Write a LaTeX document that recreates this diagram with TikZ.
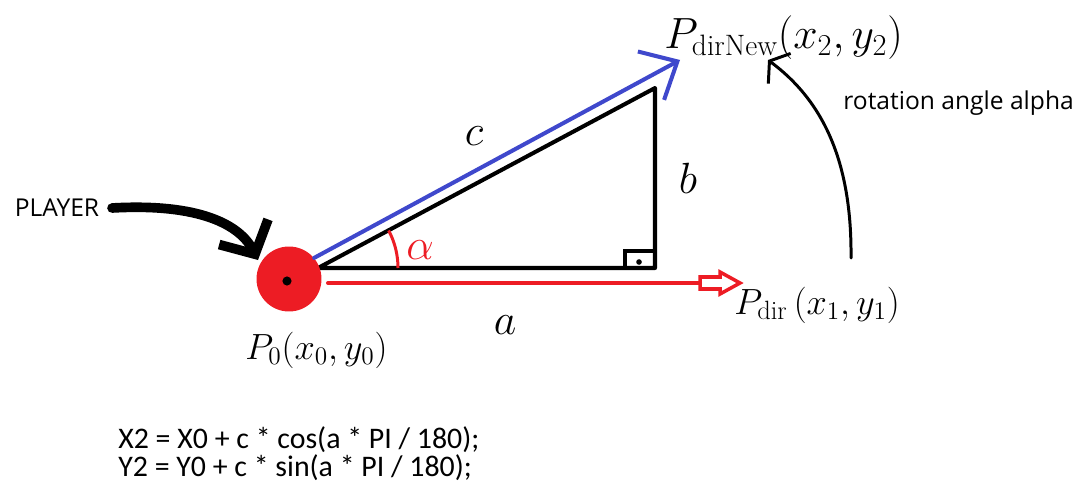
\documentclass[tikz,border=0pt]{standalone}
\usepackage{fontspec}
\newfontfamily\uifont{Open Sans}
\newfontfamily\calfont{Carlito}
\usetikzlibrary{arrows.meta, positioning}
\definecolor{paintred}{RGB}{237,28,36}
\definecolor{paintblue}{RGB}{63,72,204}

\begin{document}
\begin{tikzpicture}[x=0.02cm, y=-0.02cm,
every node/.style = {inner sep=0pt},
stroke/.style  = {line width=2.3pt, line cap=round, line join=round},
hand/.style    = {font=\fontsize{24}{24}\selectfont},
letter/.style  = {font=\fontsize{34}{34}\selectfont},
ui/.style      = {font=\uifont\fontsize{14}{16}\selectfont},
                    ]
\useasboundingbox (0,0) rectangle (1087,500);
%--- triangle
\coordinate (vA) at (318,268);
\coordinate (vC) at (655,268);
\coordinate (vB) at (655,88);
\draw[stroke] (vA) -- (vC) -- (vB) -- cycle;
\draw[line width=2pt] (625,268) |- (655,251);
\fill (639,262) circle (1.6pt);
%--- player
\node (player) [circle, fill=paintred, minimum size=1.3cm] at (289,279) {};
\fill (287,281) circle (2.6pt);
\node (playerlbl) [ui] at (57,208) {PLAYER};
\draw[line width=5.5pt, line cap=round,
      -{Straight Barb[length=5mm, width=11mm]}]
        ([xshift=2.5mm] playerlbl.east) .. controls (200,203) and (240,225) .. (258,260);
%--- vectors
\coordinate (newtip) at (680,60);
\coordinate (redfrom) at (328,283);
\coordinate (dirtip) at (740,283);
\draw[stroke, paintblue, -{Straight Barb[length=6mm, width=11mm]}]
        (player.40) -- (newtip);
\draw[stroke, paintred] (redfrom) -- ([xshift=-0.8cm] dirtip);
\draw[paintred, line width=2pt, line join=miter]
        (dirtip) -- ++(-20,-11) -- ++(0,5) -- ++(-20,0) -- ++(0,12)
        -- ++(20,0) -- ++(0,5) -- cycle;
%--- angle
\draw[paintred, line width=1.7pt] (vA) ++(0:80) arc[start angle=0, end angle=-28, radius=80];
\node (alpha) [hand, text=paintred] at (420,250) {$\alpha$};
%--- labels
\node (lc) [letter] at (474,136) {$c$};
\node (lb) [letter] at (688,178) {$b$};
\node (la) [letter] at (505,325) {$a$};
\node (pnew) [hand, anchor=west] at (664,38) {$P_{\mathrm{dirNew}}(x_2,y_2)$};
\node (pdir) [hand, font=\fontsize{21.5}{22}\selectfont, anchor=west] at (734,305) {$P_{\mathrm{dir}}\,(x_1,y_1)$};
\node (pzero) [hand, font=\fontsize{19.5}{20}\selectfont, anchor=west] at (245,350) {$P_0(x_0,y_0)$};
\node (rotlbl) [ui, anchor=west] at (843,103) {rotation angle alpha};
%--- rotation arc
\coordinate (rotfrom) at (851,258);
\coordinate (rottip) at (768,60);
\draw[line width=1.7pt, line cap=round,
      -{Straight Barb[length=2.5mm, width=7.5mm]}]
        (rotfrom) .. controls (852,160) and (822,100) .. (rottip);
%--- formula
\node (formula) [anchor=west, align=left, font=\calfont\fontsize{17}{16}\selectfont]
        at (118,454) {X2 = X0 + c * cos(a * PI / 180);\\Y2 = Y0 + c * sin(a * PI / 180);};
\end{tikzpicture}
\end{document}
